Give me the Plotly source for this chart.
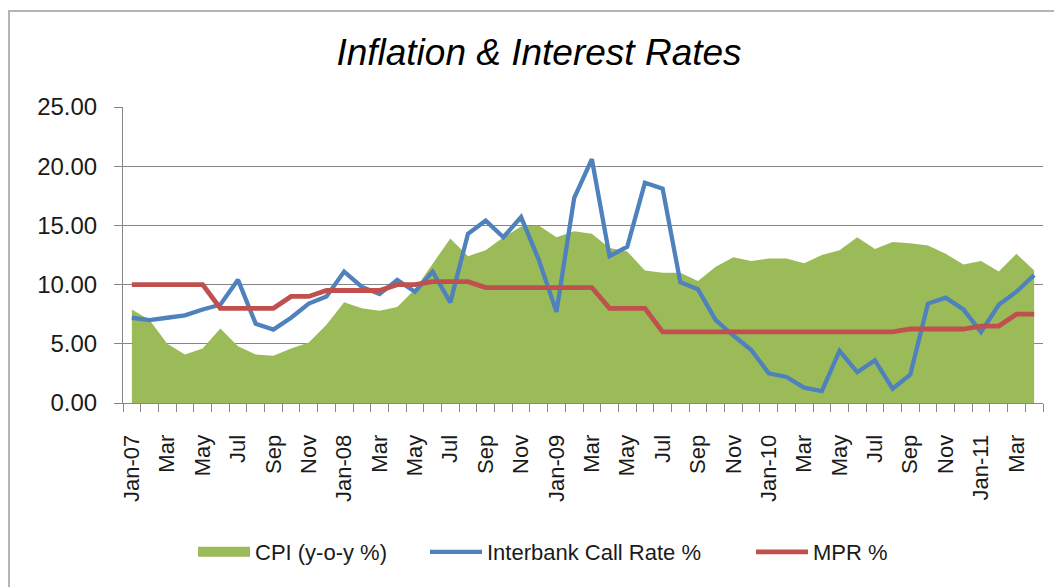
"""Inflation vs interest rates, Jan-07 to Apr-11 (monthly)."""
import plotly.graph_objects as go

# Monthly CPI (y-o-y %), Jan-07 .. Apr-11
cpi = [7.9, 7.0, 5.0, 4.1, 4.6, 6.3, 4.8, 4.1, 4.0, 4.6, 5.1, 6.6,
       8.5, 8.0, 7.8, 8.1, 9.6, 11.8, 13.9, 12.4, 12.9, 14.0, 14.9, 15.0,
       14.0, 14.5, 14.3, 13.1, 12.8, 11.2, 11.0, 11.0, 10.3, 11.5, 12.3, 12.0,
       12.2, 12.2, 11.8, 12.5, 12.9, 14.0, 13.0, 13.6, 13.5, 13.3, 12.6, 11.7,
       12.0, 11.1, 12.6, 11.2]

interbank = [7.2, 7.0, 7.2, 7.4, 7.9, 8.3, 10.4, 6.7, 6.2, 7.2, 8.4, 9.0,
             11.1, 9.8, 9.2, 10.4, 9.4, 11.1, 8.5, 14.3, 15.4, 14.0, 15.7, 12.1,
             7.7, 17.3, 20.6, 12.4, 13.2, 18.6, 18.1, 10.2, 9.6, 7.0, 5.7, 4.5,
             2.5, 2.2, 1.3, 1.0, 4.4, 2.6, 3.6, 1.2, 2.4, 8.4, 8.9, 7.9,
             6.0, 8.3, 9.4, 10.8]

mpr = [10.0, 10.0, 10.0, 10.0, 10.0, 8.0, 8.0, 8.0, 8.0, 9.0, 9.0, 9.5,
       9.5, 9.5, 9.5, 10.0, 10.0, 10.25, 10.25, 10.25, 9.75, 9.75, 9.75, 9.75,
       9.75, 9.75, 9.75, 8.0, 8.0, 8.0, 6.0, 6.0, 6.0, 6.0, 6.0, 6.0,
       6.0, 6.0, 6.0, 6.0, 6.0, 6.0, 6.0, 6.0, 6.25, 6.25, 6.25, 6.25,
       6.5, 6.5, 7.5, 7.5]

# labels shown on every second month
tick_labels = ["Jan-07", "Mar", "May", "Jul", "Sep", "Nov",
               "Jan-08", "Mar", "May", "Jul", "Sep", "Nov",
               "Jan-09", "Mar", "May", "Jul", "Sep", "Nov",
               "Jan-10", "Mar", "May", "Jul", "Sep", "Nov",
               "Jan-11", "Mar"]

x = list(range(len(cpi)))
FONT = "Liberation Sans"
GRID = "#868686"
TXT = "#1a1a1a"
GREEN, BLUE, RED = "#9BBB59", "#4F81BD", "#C0504D"

# plot area in pixels (page has an 8px body margin, so figure is 8px smaller)
W, H = 1054, 579
L, R, T, B = 115, 1035, 99, 395


def px_x(p):
    return (p - L) / (R - L)


def px_y(p):
    return (B - p) / (B - T)


fig = go.Figure()

fig.add_trace(go.Scatter(
    x=x, y=cpi, name="CPI (y-o-y %)", mode="lines",
    fill="tozeroy", fillcolor=GREEN,
    line=dict(width=0, color=GREEN), showlegend=False,
))
# legend-only entry so the CPI key is a solid block like the original
fig.add_trace(go.Scatter(
    x=[None], y=[None], name="CPI (y-o-y %)", mode="lines",
    line=dict(width=15, color=GREEN), legend="legend",
))
fig.add_trace(go.Scatter(
    x=x, y=interbank, name="Interbank Call Rate %", mode="lines",
    line=dict(width=4.3, color=BLUE), legend="legend2",
))
fig.add_trace(go.Scatter(
    x=x, y=mpr, name="MPR %", mode="lines",
    line=dict(width=4.8, color=RED), legend="legend3",
))

leg = dict(orientation="h", xanchor="left", yanchor="middle", y=px_y(544),
           font=dict(family=FONT, size=22, color=TXT),
           itemwidth=52, bgcolor="rgba(0,0,0,0)")

fig.update_layout(
    width=W, height=H,
    margin=dict(l=L, r=W - R, t=T, b=H - B),
    paper_bgcolor="white", plot_bgcolor="white",
    font=dict(family=FONT, size=22, color=TXT),
    title=dict(
        text="Inflation & Interest Rates",
        x=531 / W, xref="container", xanchor="center",
        y=1 - 44 / H, yref="container", yanchor="middle",
        font=dict(family=FONT, size=37, style="italic", color="black"),
    ),
    showlegend=True,
    legend=dict(leg, x=px_x(185)),
    legend2=dict(leg, x=px_x(417)),
    legend3=dict(leg, x=px_x(743)),
)

fig.update_yaxes(
    range=[0, 25], dtick=5, tickformat=".2f",
    tickfont=dict(size=24),
    showgrid=True, gridcolor=GRID, gridwidth=1,
    showline=True, linecolor=GRID, linewidth=1,
    ticks="outside", ticklen=8, tickcolor=GRID,
    ticklabelstandoff=12, zeroline=False,
)
fig.update_xaxes(
    range=[-0.5, len(cpi) - 0.5],
    tickmode="array", tickvals=x[::2], ticktext=tick_labels,
    tickangle=-90, showgrid=False, zeroline=False,
    showline=True, linecolor=GRID, linewidth=1,
    ticks="outside", ticklen=8, tickcolor="rgba(0,0,0,0)",
    ticklabelstandoff=14,
    minor=dict(tick0=-0.5, dtick=1, ticks="outside", ticklen=8,
               tickcolor=GRID, showgrid=False),
)

# chart-area frame (runs off the right and bottom of the picture)
fig.add_shape(
    type="rect", xref="paper", yref="paper",
    x0=px_x(1), x1=px_x(1075), y0=px_y(600), y1=px_y(3),
    line=dict(color="#b4b4b4", width=2), layer="below",
)

fig.write_html("out.html")
